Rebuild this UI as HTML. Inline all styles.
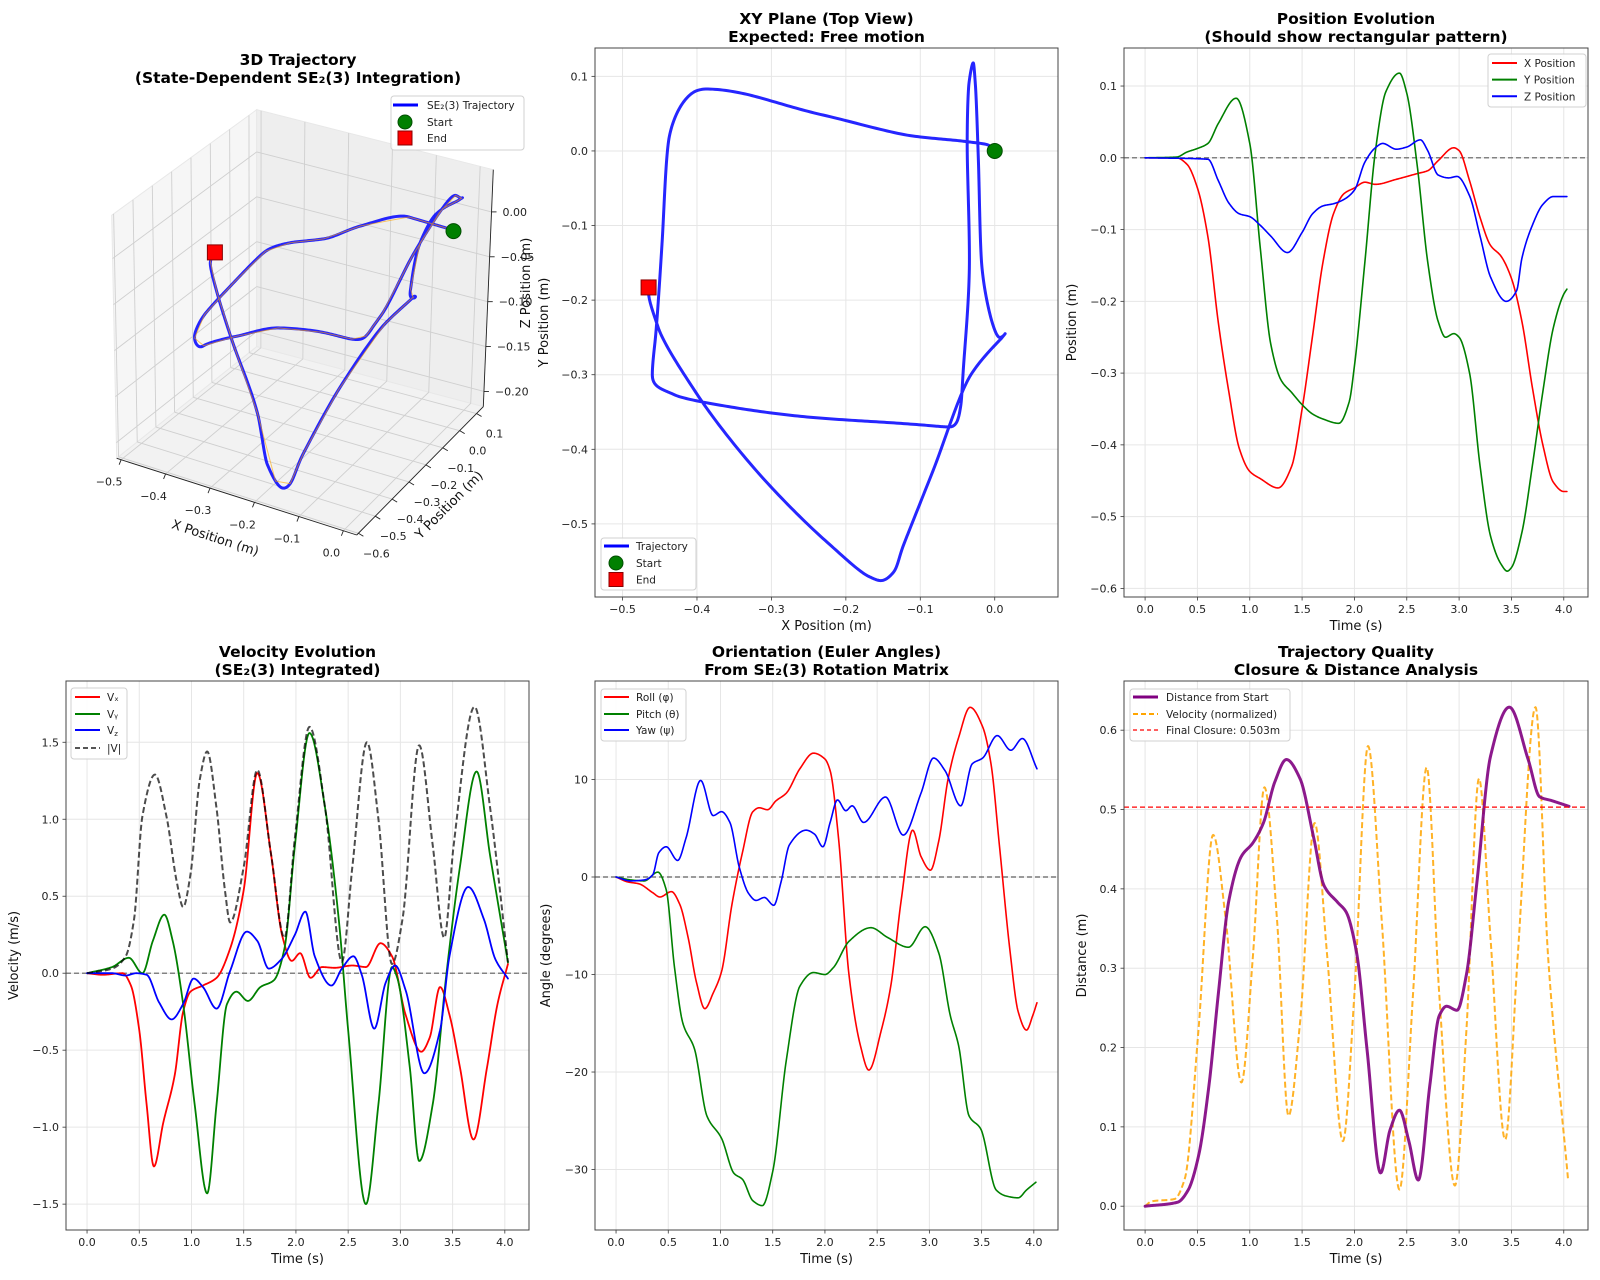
<!DOCTYPE html>
<html><head><meta charset="utf-8"><title>SE2(3) Trajectory Analysis</title>
<style>
html,body{margin:0;padding:0;background:#fff;}
svg{display:block;font-family:"DejaVu Sans","Liberation Sans",sans-serif;}
</style></head>
<body>
<svg id="fig" xmlns="http://www.w3.org/2000/svg" width="1600" height="1280" viewBox="0 0 1600 1280">
<rect width="1600" height="1280" fill="#fff"/>
</svg>
<script>
// ---------- DATA ----------
const posXT=[0,0.3,0.4,0.5,0.6,0.7,0.8,0.9,1.0,1.1,1.27,1.4,1.5,1.6,1.7,1.8,1.9,2.0,2.1,2.2,2.4,2.6,2.7,2.8,2.95,3.0,3.1,3.2,3.3,3.4,3.5,3.6,3.7,3.8,3.9,4.0,4.03];
const posXV=[0,0,-0.009,-0.042,-0.11,-0.23,-0.326,-0.405,-0.437,-0.447,-0.46,-0.43,-0.35,-0.248,-0.145,-0.078,-0.05,-0.042,-0.034,-0.037,-0.03,-0.022,-0.018,-0.004,0.014,0.01,-0.032,-0.083,-0.122,-0.137,-0.168,-0.228,-0.32,-0.40,-0.452,-0.465,-0.465];
const posYT=[0,0.3,0.4,0.5,0.6,0.7,0.87,1.0,1.1,1.2,1.3,1.4,1.5,1.6,1.7,1.85,1.95,2.0,2.1,2.2,2.3,2.43,2.5,2.6,2.7,2.8,2.87,2.95,3.0,3.1,3.2,3.3,3.4,3.46,3.5,3.6,3.7,3.8,3.9,4.0,4.03];
const posYV=[0,0.001,0.008,0.013,0.02,0.048,0.083,0.02,-0.125,-0.259,-0.31,-0.327,-0.344,-0.357,-0.364,-0.37,-0.34,-0.29,-0.145,0.009,0.092,0.118,0.09,-0.011,-0.145,-0.228,-0.25,-0.245,-0.25,-0.30,-0.429,-0.527,-0.566,-0.576,-0.571,-0.522,-0.429,-0.326,-0.237,-0.19,-0.183];
const posZT=[0,0.6,0.7,0.8,0.9,1.0,1.1,1.2,1.36,1.5,1.6,1.7,1.8,1.9,2.0,2.1,2.2,2.27,2.4,2.5,2.63,2.7,2.8,2.9,2.98,3.1,3.2,3.3,3.45,3.55,3.6,3.7,3.8,3.9,4.03];
const posZV=[0,-0.002,-0.032,-0.063,-0.078,-0.082,-0.094,-0.109,-0.132,-0.104,-0.078,-0.067,-0.064,-0.058,-0.045,-0.006,0.014,0.02,0.012,0.015,0.025,0.01,-0.024,-0.028,-0.026,-0.053,-0.109,-0.166,-0.2,-0.185,-0.14,-0.094,-0.065,-0.054,-0.054];

const vxT=[0,0.15,0.34,0.42,0.5,0.57,0.64,0.73,0.84,0.92,0.99,1.11,1.24,1.37,1.50,1.63,1.76,1.87,1.96,2.04,2.14,2.25,2.37,2.54,2.67,2.81,2.92,3.05,3.20,3.28,3.38,3.47,3.57,3.70,3.83,3.93,4.03];
const vxV=[0,-0.01,0,-0.08,-0.37,-0.85,-1.255,-0.97,-0.66,-0.25,-0.12,-0.08,-0.03,0.16,0.54,1.30,0.78,0.24,0.08,0.13,-0.03,0.04,0.035,0.05,0.04,0.195,0.11,-0.27,-0.51,-0.42,-0.09,-0.27,-0.61,-1.08,-0.61,-0.20,0.06];
const vyT=[0,0.24,0.40,0.53,0.63,0.74,0.82,0.92,1.03,1.15,1.24,1.34,1.43,1.54,1.66,1.79,1.89,1.99,2.13,2.28,2.41,2.50,2.67,2.79,2.92,2.97,3.09,3.18,3.31,3.44,3.57,3.73,3.86,4.03];
const vyV=[0,0.04,0.10,0,0.21,0.38,0.21,-0.2,-0.85,-1.43,-0.85,-0.2,-0.12,-0.18,-0.09,-0.045,0.16,0.83,1.56,1.07,0.35,-0.37,-1.5,-0.85,0.04,-0.03,-0.61,-1.22,-0.85,-0.01,0.69,1.31,0.76,0.07];
const vzT=[0,0.24,0.37,0.47,0.57,0.69,0.81,0.92,1.02,1.11,1.24,1.37,1.53,1.63,1.74,1.86,1.99,2.09,2.18,2.34,2.44,2.55,2.63,2.75,2.86,2.95,3.05,3.23,3.38,3.47,3.65,3.80,3.91,4.03];
const vzV=[0,0,-0.015,0,-0.01,-0.19,-0.30,-0.2,-0.035,-0.09,-0.23,0.015,0.27,0.21,0.03,0.09,0.25,0.40,0.11,-0.08,0.03,0.11,-0.01,-0.36,-0.06,0.05,-0.11,-0.65,-0.37,0.11,0.56,0.35,0.09,-0.035];
const vmT=[0,0.24,0.37,0.45,0.53,0.65,0.76,0.86,0.92,0.99,1.08,1.15,1.24,1.32,1.37,1.50,1.63,1.76,1.89,1.99,2.13,2.28,2.44,2.54,2.68,2.79,2.92,3.02,3.18,3.31,3.42,3.51,3.71,3.86,4.03];
const vmV=[0,0.03,0.11,0.35,1.02,1.29,1.02,0.59,0.43,0.64,1.26,1.44,1.07,0.54,0.33,0.69,1.32,0.78,0.23,0.88,1.60,1.07,0.075,0.69,1.50,1.0,0.06,0.35,1.48,0.83,0.23,0.83,1.73,1.07,0.07];

const rollT=[0,0.11,0.22,0.35,0.42,0.53,0.61,0.69,0.77,0.85,0.93,1.01,1.11,1.21,1.31,1.37,1.45,1.53,1.63,1.76,1.89,2.0,2.05,2.13,2.23,2.34,2.42,2.54,2.63,2.73,2.84,2.92,3.01,3.09,3.18,3.28,3.39,3.51,3.59,3.67,3.77,3.85,3.93,3.99,4.03];
const rollV=[0,-0.5,-0.7,-1.6,-2.05,-1.5,-2.8,-6.2,-10.8,-13.5,-11.9,-9.7,-2.8,2.5,6.7,7.1,6.9,7.8,8.6,11.1,12.7,12.1,10.9,4.0,-10.0,-17.3,-19.8,-15.7,-11.2,-2.4,4.8,2.1,0.7,3.7,10.1,14.3,17.4,15.4,11.6,3.3,-7.4,-13.8,-15.7,-14.2,-12.9];
const pitchT=[0,0.14,0.27,0.40,0.48,0.56,0.64,0.75,0.87,1.01,1.13,1.21,1.31,1.40,1.50,1.63,1.76,1.89,2.0,2.08,2.23,2.44,2.60,2.80,2.96,3.09,3.20,3.28,3.38,3.49,3.64,3.73,3.85,3.93,4.02];
const pitchV=[0,-0.3,-0.4,0.5,-1.3,-9.3,-15,-17.6,-24.5,-26.8,-30.4,-31.0,-33.2,-33.7,-30.2,-18.8,-11.2,-9.8,-10.0,-9.3,-6.6,-5.2,-6.2,-7.2,-5.1,-7.8,-14.2,-17.3,-24.5,-25.8,-32.1,-32.7,-32.9,-32.1,-31.3];
const yawT=[0,0.14,0.27,0.35,0.41,0.48,0.59,0.67,0.81,0.93,1.01,1.09,1.18,1.27,1.34,1.42,1.51,1.58,1.66,1.82,1.90,1.98,2.05,2.12,2.20,2.26,2.37,2.58,2.75,2.92,3.04,3.15,3.30,3.41,3.51,3.65,3.78,3.89,4.03];
const yawV=[0,-0.4,-0.3,0.2,2.5,3.1,1.7,4.0,9.9,6.3,6.7,5.6,1.0,-1.7,-2.4,-2.1,-2.9,-0.5,3.3,4.8,4.4,3.1,5.6,7.9,6.8,7.3,5.6,8.2,4.3,8.6,12.2,10.9,7.3,11.6,12.2,14.5,13.0,14.2,11.1];

const distT=[0,0.31,0.41,0.51,0.61,0.70,0.80,0.92,1.03,1.13,1.24,1.35,1.48,1.61,1.71,1.84,1.92,2.02,2.12,2.25,2.34,2.43,2.52,2.61,2.72,2.81,2.88,2.98,3.07,3.17,3.30,3.48,3.66,3.77,3.89,4.05];
const distV=[0,0.005,0.02,0.063,0.152,0.268,0.385,0.441,0.458,0.483,0.535,0.563,0.539,0.465,0.404,0.383,0.371,0.32,0.198,0.042,0.096,0.121,0.082,0.033,0.152,0.24,0.252,0.247,0.292,0.408,0.567,0.629,0.563,0.516,0.511,0.504];
const velNT=[0,0.06,0.28,0.38,0.51,0.65,0.77,0.92,1.03,1.14,1.26,1.37,1.48,1.62,1.74,1.89,2.00,2.13,2.26,2.43,2.56,2.69,2.81,2.96,3.07,3.19,3.30,3.44,3.56,3.73,3.85,4.04];
const velNV=[0,0.006,0.009,0.035,0.222,0.468,0.362,0.156,0.315,0.528,0.362,0.114,0.231,0.483,0.315,0.082,0.268,0.58,0.362,0.021,0.268,0.553,0.268,0.026,0.222,0.539,0.338,0.084,0.315,0.629,0.315,0.035];
const finalClosure=[0.503];

const timeTicks=[0,0.5,1,1.5,2,2.5,3,3.5,4];
const posTicks=[0.1,0,-0.1,-0.2,-0.3,-0.4,-0.5,-0.6];
const velTicks=[1.5,1,0.5,0,-0.5,-1,-1.5];
const angTicks=[10,0,-10,-20,-30];
const distTicks=[0,0.1,0.2,0.3,0.4,0.5,0.6];
const xyXTicks=[-0.5,-0.4,-0.3,-0.2,-0.1,0];
const xyYTicks=[0.1,0,-0.1,-0.2,-0.3,-0.4,-0.5];
const d3XTicks=[-0.5,-0.4,-0.3,-0.2,-0.1,0];
const d3YTicks=[-0.6,-0.5,-0.4,-0.3,-0.2,-0.1,0,0.1];
const d3ZTicks=[-0.2,-0.15,-0.1,-0.05,0];

// ---------- HELPERS ----------
const NS='http://www.w3.org/2000/svg';
const svg=document.getElementById('fig');
function mk(parent,tag,attrs,text){const e=document.createElementNS(NS,tag);for(const k in attrs)e.setAttribute(k,attrs[k]);if(text!=null)e.textContent=text;parent.appendChild(e);return e;}
function monotone(xs,ys){const n=xs.length,d=[],m=new Array(n);
 for(let i=0;i<n-1;i++)d[i]=(ys[i+1]-ys[i])/(xs[i+1]-xs[i]);
 m[0]=d[0];m[n-1]=d[n-2];
 for(let i=1;i<n-1;i++){if(d[i-1]*d[i]<=0)m[i]=0;else{const h0=xs[i]-xs[i-1],h1=xs[i+1]-xs[i];const w1=2*h1+h0,w2=h1+2*h0;m[i]=(w1+w2)/(w1/d[i-1]+w2/d[i]);}}
 return t=>{if(t<=xs[0])return ys[0];if(t>=xs[n-1])return ys[n-1];let i=0;while(t>xs[i+1])i++;
  const h=xs[i+1]-xs[i],s=(t-xs[i])/h,s2=s*s,s3=s2*s;
  return (2*s3-3*s2+1)*ys[i]+(s3-2*s2+s)*h*m[i]+(-2*s3+3*s2)*ys[i+1]+(s3-s2)*h*m[i+1];};}
function fmt(v,dec){const s=Math.abs(v).toFixed(dec);return (v<-1e-9?'\u2212':'')+s;}

function makeAxes(g,o){
 const sx=v=>o.x0+(v-o.xlim[0])/(o.xlim[1]-o.xlim[0])*(o.x1-o.x0);
 const sy=v=>o.y1-(v-o.ylim[0])/(o.ylim[1]-o.ylim[0])*(o.y1-o.y0);
 const grid=mk(g,'g',{});
 
 
 o.xticks.forEach(v=>{const x=sx(v);
  mk(grid,'line',{x1:x,x2:x,y1:o.y0,y2:o.y1,stroke:'#e6e6e6','stroke-width':1});
  mk(g,'line',{x1:x,x2:x,y1:o.y1,y2:o.y1+3.5,stroke:'#333','stroke-width':0.8});
  const t=mk(g,'text',{x:x,y:o.y1+16,'font-size':11,'text-anchor':'middle',fill:'#222'},fmt(v,o.xdec));
  
  
 });
 o.yticks.forEach(v=>{const y=sy(v);
  mk(grid,'line',{x1:o.x0,x2:o.x1,y1:y,y2:y,stroke:'#e6e6e6','stroke-width':1});
  mk(g,'line',{x1:o.x0-3.5,x2:o.x0,y1:y,y2:y,stroke:'#333','stroke-width':0.8});
  const t=mk(g,'text',{x:o.x0-7,y:y+4,'font-size':11,'text-anchor':'end',fill:'#222'},fmt(v,o.ydec));
  
  
 });
 const xl=mk(g,'text',{x:(o.x0+o.x1)/2,y:o.y1+33,'font-size':13,'text-anchor':'middle',fill:'#111'},o.xlabel);
 
 
 const yl=mk(g,'text',{x:0,y:0,'font-size':13,'text-anchor':'middle',fill:'#111',transform:`translate(${o.ylx},${(o.y0+o.y1)/2}) rotate(-90)`},o.ylabel);
 
 
 const tt=mk(g,'text',{x:(o.x0+o.x1)/2,y:o.y0-24,'font-size':15.5,'font-weight':'bold','text-anchor':'middle',fill:'#000'},o.title[0]);
 
 
 const t2=mk(g,'text',{x:(o.x0+o.x1)/2,y:o.y0-6,'font-size':15.5,'font-weight':'bold','text-anchor':'middle',fill:'#000'},o.title[1]);
 
 
 const clip=mk(svg,'clipPath',{id:'clip-'+o.name});
 mk(clip,'rect',{x:o.x0,y:o.y0,width:o.x1-o.x0,height:o.y1-o.y0});
 const plot=mk(g,'g',{'clip-path':`url(#clip-${o.name})`});
 
 
 return {sx,sy,plot,g,o};
}
function finishAxes(A){const o=A.o;
 const r=mk(A.g,'rect',{x:o.x0,y:o.y0,width:o.x1-o.x0,height:o.y1-o.y0,fill:'none',stroke:'#444','stroke-width':1});
 
 }
function seriesPath(A,ts,vs,style,name){
 const f=monotone(ts,vs);let d='';const t0=ts[0],t1=ts[ts.length-1];
 for(let t=t0;t<=t1+1e-9;t+=0.005){d+=(d?'L':'M')+A.sx(t).toFixed(2)+','+A.sy(f(t)).toFixed(2);}
 const p=mk(A.plot,'path',Object.assign({d:d,fill:'none','stroke-linejoin':'round','stroke-linecap':'round'},style));
 
 
 return p;}
function hline(A,v,style,name){const o=A.o;
 const l=mk(A.plot,'line',Object.assign({x1:o.x0,x2:o.x1,y1:A.sy(v),y2:A.sy(v)},style));
 
 }
function legend(g,box,items,name){
 const lg=mk(g,'g',{});
 
 
 mk(lg,'rect',{x:box[0],y:box[1],width:box[2],height:box[3],rx:3,fill:'#fff','fill-opacity':0.85,stroke:'#d0d0d0','stroke-width':1});
 items.forEach(it=>{
  const e=mk(lg,'g',{});
  
  
  if(it.kind==='line')mk(e,'line',{x1:it.lx,x2:it.lx+25,y1:it.y,y2:it.y,stroke:it.color,'stroke-width':it.w||2,'stroke-dasharray':it.dash||'none'});
  else if(it.kind==='circle')mk(e,'circle',{cx:it.lx+12,cy:it.y,r:7,fill:'#008000',stroke:'#004d00','stroke-width':1});
  else mk(e,'rect',{x:it.lx+5,y:it.y-7,width:14,height:14,fill:'#ff0000',stroke:'#8b0000','stroke-width':1});
  const t=mk(e,'text',{x:it.tx,y:it.y+4,'font-size':10.5,fill:'#222'});
  t.innerHTML=it.label;
 });}

// ---------- POSITION EVOLUTION ----------
const TX=[-0.2015,4.2315];
(function(){
 const g=mk(svg,'g',{});
 
 
 const A=makeAxes(g,{name:'position',x0:1124,x1:1588,y0:48,y1:597,xlim:TX,ylim:[-0.612,0.153],xticks:timeTicks,yticks:posTicks,xdec:1,ydec:1,xlabel:'Time (s)',ylabel:'Position (m)',ylx:1076,title:['Position Evolution','(Should show rectangular pattern)']});
 hline(A,0,{stroke:'#000','stroke-opacity':0.6,'stroke-width':1.2,'stroke-dasharray':'5,3'},'zero-line');
 seriesPath(A,posXT,posXV,{stroke:'#ff0000','stroke-width':1.6},'x-position-line');
 seriesPath(A,posYT,posYV,{stroke:'#008000','stroke-width':1.6},'y-position-line');
 seriesPath(A,posZT,posZV,{stroke:'#0000ff','stroke-width':1.6},'z-position-line');
 finishAxes(A);
 legend(g,[1488,54,98,53],[{kind:'line',lx:1492,y:63,color:'#ff0000',tx:1524,label:'X Position'},{kind:'line',lx:1492,y:79.6,color:'#008000',tx:1524,label:'Y Position'},{kind:'line',lx:1492,y:96.3,color:'#0000ff',tx:1524,label:'Z Position'}],'position-legend');
})();

// ---------- VELOCITY ----------
(function(){
 const g=mk(svg,'g',{});
 
 
 const A=makeAxes(g,{name:'velocity',x0:66,x1:529,y0:681,y1:1230,xlim:TX,ylim:[-1.668,1.898],xticks:timeTicks,yticks:velTicks,xdec:1,ydec:1,xlabel:'Time (s)',ylabel:'Velocity (m/s)',ylx:18,title:['Velocity Evolution','(SE\u2082(3) Integrated)']});
 hline(A,0,{stroke:'#000','stroke-opacity':0.6,'stroke-width':1.2,'stroke-dasharray':'5,3'},'zero-line');
 seriesPath(A,vxT,vxV,{stroke:'#ff0000','stroke-width':1.8},'vx-line');
 seriesPath(A,vyT,vyV,{stroke:'#008000','stroke-width':1.8},'vy-line');
 seriesPath(A,vzT,vzV,{stroke:'#0000ff','stroke-width':1.8},'vz-line');
 seriesPath(A,vmT,vmV,{stroke:'#000','stroke-opacity':0.7,'stroke-width':2,'stroke-dasharray':'6,3','stroke-linecap':'butt'},'speed-magnitude-line');
 finishAxes(A);
 legend(g,[71,688,56,71],[{kind:'line',lx:75,y:697,color:'#ff0000',tx:107,label:'V\u2093'},{kind:'line',lx:75,y:714,color:'#008000',tx:107,label:'V\u1d67'},{kind:'line',lx:75,y:730,color:'#0000ff',tx:107,label:'V<tspan font-size="7" dy="2">z</tspan>'},{kind:'line',lx:75,y:748,color:'#555',dash:'5,3',tx:107,label:'|V|'}],'velocity-legend');
})();

// ---------- ORIENTATION ----------
(function(){
 const g=mk(svg,'g',{});
 
 
 const A=makeAxes(g,{name:'orientation',x0:595,x1:1058,y0:681,y1:1230,xlim:TX,ylim:[-36.2,20.1],xticks:timeTicks,yticks:angTicks,xdec:1,ydec:0,xlabel:'Time (s)',ylabel:'Angle (degrees)',ylx:550,title:['Orientation (Euler Angles)','From SE\u2082(3) Rotation Matrix']});
 hline(A,0,{stroke:'#000','stroke-opacity':0.6,'stroke-width':1.2,'stroke-dasharray':'5,3'},'zero-line');
 seriesPath(A,rollT,rollV,{stroke:'#ff0000','stroke-width':1.6},'roll-line');
 seriesPath(A,pitchT,pitchV,{stroke:'#008000','stroke-width':1.6},'pitch-line');
 seriesPath(A,yawT,yawV,{stroke:'#0000ff','stroke-width':1.6},'yaw-line');
 finishAxes(A);
 legend(g,[601,689,85,52],[{kind:'line',lx:604,y:697,color:'#ff0000',tx:636,label:'Roll (\u03c6)'},{kind:'line',lx:604,y:714,color:'#008000',tx:636,label:'Pitch (\u03b8)'},{kind:'line',lx:604,y:730,color:'#0000ff',tx:636,label:'Yaw (\u03c8)'}],'orientation-legend');
})();

// ---------- DISTANCE ----------
(function(){
 const g=mk(svg,'g',{});
 
 
 const A=makeAxes(g,{name:'quality',x0:1124,x1:1588,y0:681,y1:1230,xlim:TX,ylim:[-0.030,0.662],xticks:timeTicks,yticks:distTicks,xdec:1,ydec:1,xlabel:'Time (s)',ylabel:'Distance (m)',ylx:1086,title:['Trajectory Quality','Closure & Distance Analysis']});
 seriesPath(A,velNT,velNV,{stroke:'#ffa500','stroke-opacity':0.85,'stroke-width':2,'stroke-dasharray':'6,3','stroke-linecap':'butt'},'velocity-normalized-line');
 seriesPath(A,distT,distV,{stroke:'#800080','stroke-opacity':0.9,'stroke-width':3},'distance-line');
 hline(A,finalClosure[0],{stroke:'#ff0000','stroke-width':1.3,'stroke-dasharray':'5,3'},'final-closure-line');
 finishAxes(A);
 legend(g,[1130,689,160,52],[{kind:'line',lx:1133,y:697,color:'#800080',w:3,tx:1166,label:'Distance from Start'},{kind:'line',lx:1133,y:714,color:'#ffa500',dash:'5,3',tx:1166,label:'Velocity (normalized)'},{kind:'line',lx:1133,y:730,color:'#ff0000',w:1.3,dash:'4,3',tx:1166,label:'Final Closure: '+finalClosure[0].toFixed(3)+'m'}],'quality-legend');
})();

// ---------- shared trajectory sampling ----------
const fX=monotone(posXT,posXV),fY=monotone(posYT,posYV),fZ=monotone(posZT,posZV);

// ---------- XY PLANE ----------
(function(){
 const g=mk(svg,'g',{});
 
 
 const A=makeAxes(g,{name:'xy',x0:595,x1:1058,y0:48,y1:597,xlim:[-0.537,0.085],ylim:[-0.598,0.138],xticks:xyXTicks,yticks:xyYTicks,xdec:1,ydec:1,xlabel:'X Position (m)',ylabel:'Y Position (m)',ylx:548,title:['XY Plane (Top View)','Expected: Free motion']});
 let d='';for(let t=0;t<=4.03+1e-9;t+=0.004){d+=(d?'L':'M')+A.sx(fX(t)).toFixed(2)+','+A.sy(fY(t)).toFixed(2);}
 const p=mk(A.plot,'path',{d:d,fill:'none',stroke:'#0000ff','stroke-opacity':0.85,'stroke-width':3,'stroke-linejoin':'round'});
 
 
 const s=mk(A.plot,'circle',{cx:A.sx(posXV[0]),cy:A.sy(posYV[0]),r:7.5,fill:'#008000',stroke:'#004d00','stroke-width':1});
 
 
 const n=posXV.length-1,m=posYV.length-1;
 const e=mk(A.plot,'rect',{x:A.sx(posXV[n])-7.5,y:A.sy(posYV[m])-7.5,width:15,height:15,fill:'#ff0000',stroke:'#8b0000','stroke-width':1});
 
 
 finishAxes(A);
 legend(g,[601,538,95,52],[{kind:'line',lx:604,y:546,color:'#0000ff',w:3,tx:636,label:'Trajectory'},{kind:'circle',lx:604,y:563,tx:636,label:'Start'},{kind:'square',lx:604,y:579.5,tx:636,label:'End'}],'xy-legend');
})();

// ---------- 3D ----------
(function(){
 const g=mk(svg,'g',{});
 
 
 const xr=[-0.51,0.03],yr=[-0.61,0.14],zr=[-0.217,0.047];
 const A=[116.7,458.3],B=[356.7,535],C=[483.3,406.7],D=[256.7,346.7];
 const zA=[-5,-243],zB=[2,-245],zC=[10,-237],zD=[0,-237];
 function bil(P,Q,R,S,u,v){return [(1-u)*(1-v)*P[0]+u*(1-v)*Q[0]+u*v*R[0]+(1-u)*v*S[0],(1-u)*(1-v)*P[1]+u*(1-v)*Q[1]+u*v*R[1]+(1-u)*v*S[1]];}
 function P(x,y,z){const u=(x-xr[0])/(xr[1]-xr[0]),v=(y-yr[0])/(yr[1]-yr[0]),w=(z-zr[0])/(zr[1]-zr[0]);
  const f=bil(A,B,C,D,u,v),zv=bil(zA,zB,zC,zD,u,v);return [f[0]+w*zv[0],f[1]+w*zv[1]];}
 const pts=a=>a.map(p=>p[0].toFixed(1)+','+p[1].toFixed(1)).join(' ');
 const panes=mk(g,'g',{});
 
 
 mk(panes,'polygon',{points:pts([P(xr[0],yr[0],zr[0]),P(xr[0],yr[1],zr[0]),P(xr[0],yr[1],zr[1]),P(xr[0],yr[0],zr[1])]),fill:'#f6f6f6',stroke:'#e8e8e8'});
 mk(panes,'polygon',{points:pts([P(xr[0],yr[1],zr[0]),P(xr[1],yr[1],zr[0]),P(xr[1],yr[1],zr[1]),P(xr[0],yr[1],zr[1])]),fill:'#eeeeee',stroke:'#e8e8e8'});
 mk(panes,'polygon',{points:pts([P(xr[0],yr[0],zr[0]),P(xr[1],yr[0],zr[0]),P(xr[1],yr[1],zr[0]),P(xr[0],yr[1],zr[0])]),fill:'#f2f2f2',stroke:'#e8e8e8'});
 const grid=mk(g,'g',{stroke:'#cfcfcf','stroke-width':0.9});
 
 
 const L=(a,b)=>mk(grid,'line',{x1:a[0],y1:a[1],x2:b[0],y2:b[1]});
 d3XTicks.forEach(x=>{L(P(x,yr[0],zr[0]),P(x,yr[1],zr[0]));L(P(x,yr[1],zr[0]),P(x,yr[1],zr[1]));});
 d3YTicks.forEach(y=>{L(P(xr[0],y,zr[0]),P(xr[1],y,zr[0]));L(P(xr[0],y,zr[0]),P(xr[0],y,zr[1]));});
 d3ZTicks.forEach(z=>{L(P(xr[0],yr[0],z),P(xr[0],yr[1],z));L(P(xr[0],yr[1],z),P(xr[1],yr[1],z));});
 const ax=mk(g,'g',{stroke:'#222','stroke-width':0.9});
 
 
 const AL=(a,b)=>mk(ax,'line',{x1:a[0],y1:a[1],x2:b[0],y2:b[1]});
 AL(P(xr[0],yr[0],zr[0]),P(xr[1],yr[0],zr[0]));AL(P(xr[1],yr[0],zr[0]),P(xr[1],yr[1],zr[0]));AL(P(xr[1],yr[1],zr[0]),P(xr[1],yr[1],zr[1]));
 d3XTicks.forEach(x=>{const p=P(x,yr[0],zr[0]);AL(p,[p[0]-2,p[1]+5]);
  const t=mk(g,'text',{x:p[0]-12,y:p[1]+26,'font-size':11,'text-anchor':'middle',fill:'#222'},fmt(x,1));
  
  });
 d3YTicks.forEach(y=>{const p=P(xr[1],y,zr[0]);AL(p,[p[0]+5,p[1]+3]);
  const t=mk(g,'text',{x:p[0]+18,y:p[1]+24,'font-size':11,'text-anchor':'middle',fill:'#222'},fmt(y,1));
  
  });
 d3ZTicks.forEach(z=>{const p=P(xr[1],yr[1],z);AL(p,[p[0]+5,p[1]]);
  const t=mk(g,'text',{x:p[0]+11,y:p[1]+4,'font-size':11,'text-anchor':'start',fill:'#222'},fmt(z,2));
  
  });
 const xl=mk(g,'text',{'font-size':13,'text-anchor':'middle',fill:'#111',transform:'translate(214,542) rotate(18)'},'X Position (m)');
 
 
 const yl=mk(g,'text',{'font-size':13,'text-anchor':'middle',fill:'#111',transform:'translate(452,508) rotate(-45)'},'Y Position (m)');
 
 
 const zl=mk(g,'text',{'font-size':13,'text-anchor':'middle',fill:'#111',transform:'translate(530,283) rotate(-90)'},'Z Position (m)');
 
 
 let d='';for(let t=0;t<=4.03+1e-9;t+=0.004){const p=P(fX(t),fY(t),fZ(t));d+=(d?'L':'M')+p[0].toFixed(2)+','+p[1].toFixed(2);}
 const tr=mk(g,'path',{d:d,fill:'none',stroke:'#0000ff','stroke-opacity':0.85,'stroke-width':3,'stroke-linejoin':'round'});
 
 
 let d2='';for(let t=0;t<=4.03+1e-9;t+=0.1){const p=P(fX(t),fY(t),fZ(t));d2+=(d2?'L':'M')+p[0].toFixed(2)+','+p[1].toFixed(2);}
 const og=mk(g,'path',{d:d2,fill:'none',stroke:'#ffa500','stroke-opacity':0.6,'stroke-width':1});
 
 
 const s0=P(posXV[0],posYV[0],posZV[0]);
 const s=mk(g,'circle',{cx:s0[0],cy:s0[1],r:7.5,fill:'#008000',stroke:'#004d00','stroke-width':1});
 
 
 const e0=P(posXV[posXV.length-1],posYV[posYV.length-1],posZV[posZV.length-1]);
 const e=mk(g,'rect',{x:e0[0]-7.5,y:e0[1]-7.5,width:15,height:15,fill:'#ff0000',stroke:'#8b0000','stroke-width':1});
 
 
 const t1=mk(g,'text',{x:298,y:65,'font-size':15.5,'font-weight':'bold','text-anchor':'middle'},'3D Trajectory');
 
 
 const t2=mk(g,'text',{x:298,y:83,'font-size':15.5,'font-weight':'bold','text-anchor':'middle'},'(State-Dependent SE\u2082(3) Integration)');
 
 
 legend(g,[391,96,133,54],[{kind:'line',lx:393,y:105,color:'#0000ff',w:3,tx:427,label:'SE\u2082(3) Trajectory'},{kind:'circle',lx:393,y:122,tx:427,label:'Start'},{kind:'square',lx:393,y:138,tx:427,label:'End'}],'3d-legend');
})();
</script>
</body></html>
